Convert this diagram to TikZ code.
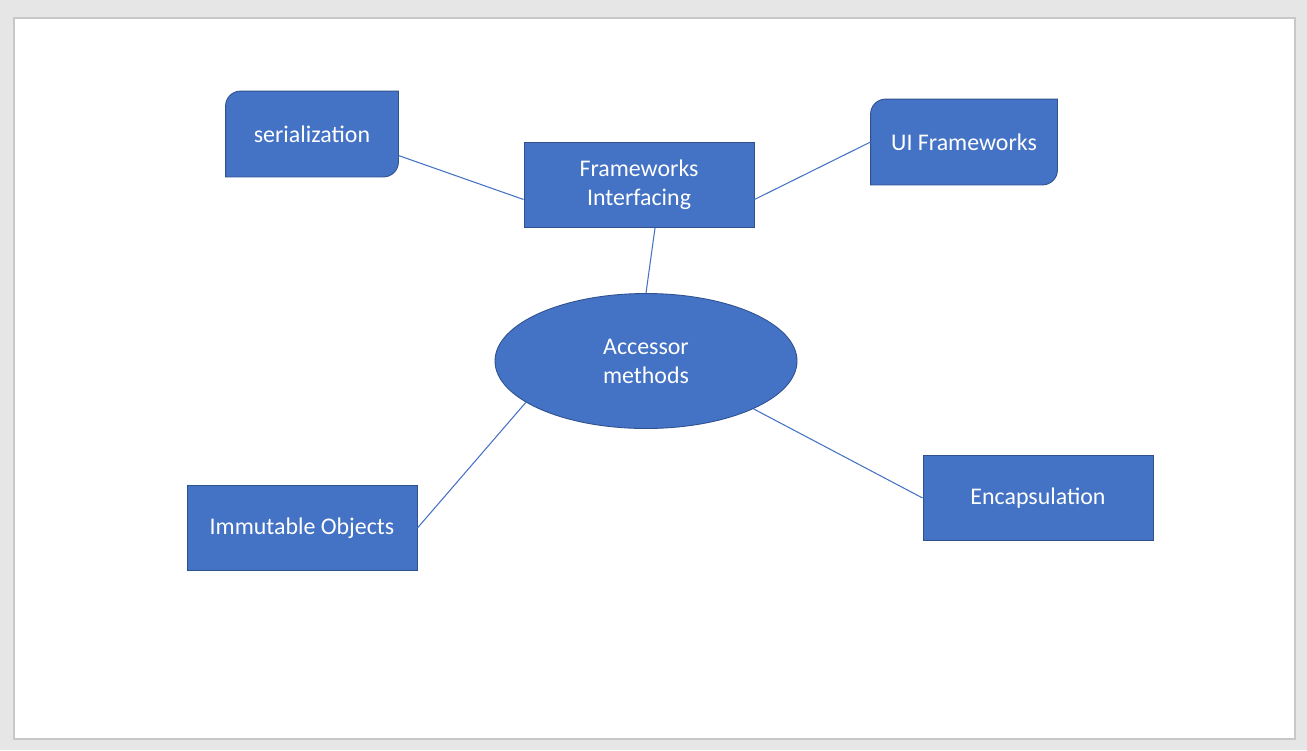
\documentclass[tikz,border=0pt]{standalone}
\usepackage{fontspec}
\setmainfont{Carlito}
\usepackage{tikz}
\usepackage{xcolor}
\usetikzlibrary{calc,shapes.geometric,backgrounds}
\definecolor{SlideBlue}{HTML}{4472C4}
\definecolor{SlideEdge}{HTML}{2F528F}
\definecolor{PageGray}{HTML}{E6E6E6}
\definecolor{PageEdge}{HTML}{C8C8C8}
\tikzset{
  mmbox/.style={draw=SlideEdge, fill=SlideBlue, text=white, align=center, line width=0.5pt,
    minimum width=46mm, minimum height=17mm, inner sep=0pt, font=\fontsize{13.6}{16.6}\selectfont},
  mmsnip/.style={mmbox, draw=none, fill=none},
  mmoval/.style={mmbox, ellipse, minimum width=60.4mm, minimum height=27mm},
  mmlink/.style={draw=SlideBlue, line width=0.6pt}
}
% box with rounded top-left and bottom-right corners
\newcommand\snipshape[1]{%
  \filldraw[draw=SlideEdge, fill=SlideBlue, line width=0.5pt]
    ([yshift=-3mm]#1.north west) arc (180:90:3mm) -- (#1.north east)
    -- ([yshift=3mm]#1.south east) arc (0:-90:3mm) -- (#1.south west) -- cycle;}

\begin{document}
\begin{tikzpicture}[x=0.2mm,y=-0.2mm]
  \node[mmsnip, minimum width=34.4mm] (ser) at (312,134) {serialization};
  \node[mmsnip, minimum width=37.2mm] (ui) at (964,142) {UI Frameworks};
  \node[mmbox] (fw) at (639,185) {Frameworks\\Interfacing};
  \node[mmoval] (acc) at (646,361) {Accessor\\methods};
  \node[mmbox] (imm) at (302,528) {Immutable Objects};
  \node[mmbox] (enc) at (1038,498) {Encapsulation};

  \draw[mmlink] ([yshift=-4.3mm]ser.east) -- ([yshift=-2.9mm]fw.west);
  \draw[mmlink] ([yshift=-2.9mm]fw.east) -- (ui.west);
  \draw[mmlink] ([xshift=3.2mm]fw.south) -- (acc.north);
  \draw[mmlink] (acc.199) -- (imm.east);
  \draw[mmlink] (acc.336) -- (enc.west);

  \begin{pgfonlayer}{background}
    \fill[PageGray] (0,0) rectangle (1307,750);
    \filldraw[fill=white, draw=PageEdge, line width=0.6pt] (14,18) rectangle (1295,739);
    \snipshape{ser}
    \snipshape{ui}
  \end{pgfonlayer}
\end{tikzpicture}
\end{document}
